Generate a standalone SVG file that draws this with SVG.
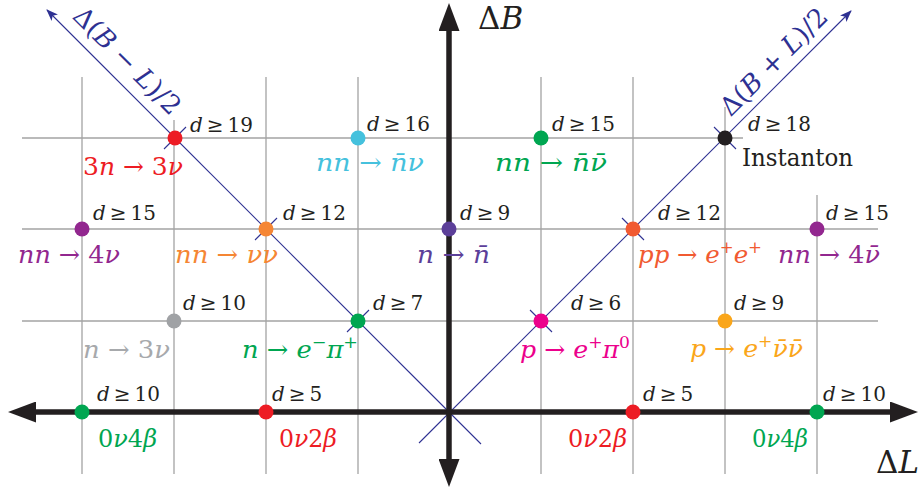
<svg xmlns="http://www.w3.org/2000/svg" width="920" height="490" viewBox="0 0 920 490">
<defs>
<style>
.grid{stroke:#a3a3a3;stroke-width:1.3;fill:none}
.diag{stroke:#2e3192;stroke-width:1.1;fill:none}
.axis{stroke:#231f20;stroke-width:5.5;fill:none}
text{font-family:'DejaVu Serif',serif}
.dl{font-size:20px;fill:#231f20}
.pl{font-size:25px}
.i{font-style:italic}
.sup{font-size:17px}
.dlab{font-size:26px;fill:#2e3192}
.ax{font-size:31px;fill:#231f20}
</style>
<marker id="axArrow" viewBox="0 0 28 21" refX="1" refY="10.5" markerWidth="28" markerHeight="21" orient="auto-start-reverse" markerUnits="userSpaceOnUse">
<path d="M0,0 L28,10.5 L0,21 z" fill="#231f20"/>
</marker>
<marker id="blueArrow" viewBox="0 0 12 9" refX="11" refY="4.5" markerWidth="12" markerHeight="9" orient="auto" markerUnits="userSpaceOnUse">
<path d="M0,0 L12,4.5 L0,9 L3,4.5 z" fill="#2e3192"/>
</marker>
</defs>
<rect width="920" height="490" fill="#ffffff"/>

<g id="grid">
<line class="grid" x1="22" y1="138" x2="743" y2="138"/>
<line class="grid" x1="22" y1="229" x2="878" y2="229"/>
<line class="grid" x1="22" y1="321" x2="878" y2="321"/>
<line class="grid" x1="82" y1="77" x2="82" y2="474"/>
<line class="grid" x1="174" y1="120" x2="174" y2="474"/>
<line class="grid" x1="266" y1="77" x2="266" y2="474"/>
<line class="grid" x1="358" y1="77" x2="358" y2="474"/>
<line class="grid" x1="541" y1="77" x2="541" y2="474"/>
<line class="grid" x1="633" y1="77" x2="633" y2="474"/>
<line class="grid" x1="725" y1="107" x2="725" y2="474"/>
<line class="grid" x1="817" y1="195" x2="817" y2="474"/>
</g>

<g id="connectors">
<line class="diag" x1="481" y1="444" x2="47" y2="10" marker-end="url(#blueArrow)"/>
<line class="diag" x1="419" y1="443" x2="851" y2="11" marker-end="url(#blueArrow)"/>
<line class="diag" x1="164" y1="149" x2="186" y2="127"/>
<line class="diag" x1="255" y1="240" x2="277" y2="218"/>
<line class="diag" x1="347" y1="332" x2="369" y2="310"/>
<line class="diag" x1="530" y1="310" x2="552" y2="332"/>
<line class="diag" x1="622" y1="218" x2="644" y2="240"/>
<line class="diag" x1="714" y1="127" x2="736" y2="149"/>
<line class="axis" x1="35" y1="412" x2="891" y2="412" marker-start="url(#axArrow)" marker-end="url(#axArrow)"/>
<line class="axis" x1="449" y1="460" x2="449" y2="30" marker-start="url(#axArrow)" marker-end="url(#axArrow)"/>
</g>

<g id="axis-labels">
<text class="ax" x="478" y="29">Δ<tspan class="i">B</tspan></text>
<text class="ax" x="876" y="473">Δ<tspan class="i">L</tspan></text>
<text class="dlab" x="121" y="67" text-anchor="middle" transform="rotate(45 121 67)" textLength="140" lengthAdjust="spacingAndGlyphs">Δ(<tspan class="i">B</tspan> − <tspan class="i">L</tspan>)/2</text>
<text class="dlab" x="780" y="68" text-anchor="middle" transform="rotate(-45 780 68)" textLength="140" lengthAdjust="spacingAndGlyphs">Δ(<tspan class="i">B</tspan> + <tspan class="i">L</tspan>)/2</text>
</g>

<g id="node-3n-3nu">
<circle cx="175" cy="138" r="7.5" fill="#ed1c24"/>
<text class="dl" x="190" y="132"><tspan class="i">d</tspan><tspan dx="4">≥</tspan><tspan dx="4">19</tspan></text>
<text class="pl" x="83" y="175" fill="#ed1c24" textLength="100" lengthAdjust="spacingAndGlyphs">3<tspan class="i">n</tspan> → 3<tspan class="i">ν</tspan></text>
</g>
<g id="node-nn-nbarnu">
<circle cx="358" cy="138" r="7.5" fill="#45c1dd"/>
<text class="dl" x="367" y="131"><tspan class="i">d</tspan><tspan dx="4">≥</tspan><tspan dx="4">16</tspan></text>
<text class="pl" x="316" y="171" fill="#45c1dd" textLength="108" lengthAdjust="spacingAndGlyphs"><tspan class="i">nn</tspan> → <tspan class="i">n̄ν</tspan></text>
</g>
<g id="node-nn-nbarnubar">
<circle cx="541" cy="138" r="7.5" fill="#00a651"/>
<text class="dl" x="552" y="131"><tspan class="i">d</tspan><tspan dx="4">≥</tspan><tspan dx="4">15</tspan></text>
<text class="pl" x="495" y="171" fill="#00a651" textLength="112" lengthAdjust="spacingAndGlyphs"><tspan class="i">nn</tspan> → <tspan class="i">n̄ν̄</tspan></text>
</g>
<g id="node-instanton">
<circle cx="725" cy="138" r="7.5" fill="#231f20"/>
<text class="dl" x="748" y="131"><tspan class="i">d</tspan><tspan dx="4">≥</tspan><tspan dx="4">18</tspan></text>
<text class="pl" x="742" y="166" fill="#231f20" textLength="111" lengthAdjust="spacingAndGlyphs">Instanton</text>
</g>

<g id="node-nn-4nu">
<circle cx="82" cy="229" r="7.5" fill="#92278f"/>
<text class="dl" x="93" y="220"><tspan class="i">d</tspan><tspan dx="4">≥</tspan><tspan dx="4">15</tspan></text>
<text class="pl" x="18" y="263" fill="#92278f" textLength="102" lengthAdjust="spacingAndGlyphs"><tspan class="i">nn</tspan> → 4<tspan class="i">ν</tspan></text>
</g>
<g id="node-nn-nunu">
<circle cx="266" cy="229" r="7.5" fill="#f58634"/>
<text class="dl" x="283" y="220"><tspan class="i">d</tspan><tspan dx="4">≥</tspan><tspan dx="4">12</tspan></text>
<text class="pl" x="175" y="263" fill="#f58634" textLength="103" lengthAdjust="spacingAndGlyphs"><tspan class="i">nn</tspan> → <tspan class="i">νν</tspan></text>
</g>
<g id="node-n-nbar">
<circle cx="449" cy="229" r="7.5" fill="#5c3f99"/>
<text class="dl" x="460" y="220"><tspan class="i">d</tspan><tspan dx="4">≥</tspan><tspan dx="4">9</tspan></text>
<text class="pl" x="417" y="263" fill="#5c3f99" textLength="73" lengthAdjust="spacingAndGlyphs"><tspan class="i">n</tspan> → <tspan class="i">n̄</tspan></text>
</g>
<g id="node-pp-ee">
<circle cx="633" cy="229" r="7.5" fill="#f15a31"/>
<text class="dl" x="658" y="220"><tspan class="i">d</tspan><tspan dx="4">≥</tspan><tspan dx="4">12</tspan></text>
<text class="pl" x="638" y="263" fill="#f15a31" textLength="124" lengthAdjust="spacingAndGlyphs"><tspan class="i">pp</tspan> → <tspan class="i">e</tspan><tspan class="sup" dy="-10">+</tspan><tspan class="i" dy="10">e</tspan><tspan class="sup" dy="-10">+</tspan></text>
</g>
<g id="node-nn-4nubar">
<circle cx="817" cy="229" r="7.5" fill="#92278f"/>
<text class="dl" x="826" y="220"><tspan class="i">d</tspan><tspan dx="4">≥</tspan><tspan dx="4">15</tspan></text>
<text class="pl" x="778" y="263" fill="#92278f" textLength="102" lengthAdjust="spacingAndGlyphs"><tspan class="i">nn</tspan> → 4<tspan class="i">ν̄</tspan></text>
</g>

<g id="node-n-3nu">
<circle cx="174" cy="321" r="7.5" fill="#a0a2a5"/>
<text class="dl" x="183" y="310"><tspan class="i">d</tspan><tspan dx="4">≥</tspan><tspan dx="4">10</tspan></text>
<text class="pl" x="83" y="358" fill="#a7a9ac" textLength="87" lengthAdjust="spacingAndGlyphs"><tspan class="i">n</tspan> → 3<tspan class="i">ν</tspan></text>
</g>
<g id="node-n-epi">
<circle cx="358" cy="321" r="7.5" fill="#00a651"/>
<text class="dl" x="373" y="310"><tspan class="i">d</tspan><tspan dx="4">≥</tspan><tspan dx="4">7</tspan></text>
<text class="pl" x="242" y="358" fill="#00a651" textLength="116" lengthAdjust="spacingAndGlyphs"><tspan class="i">n</tspan> → <tspan class="i">e</tspan><tspan class="sup" dy="-10">−</tspan><tspan class="i" dy="10">π</tspan><tspan class="sup" dy="-10">+</tspan></text>
</g>
<g id="node-p-epi0">
<circle cx="541" cy="321" r="7.5" fill="#ec008c"/>
<text class="dl" x="571" y="310"><tspan class="i">d</tspan><tspan dx="4">≥</tspan><tspan dx="4">6</tspan></text>
<text class="pl" x="520" y="358" fill="#ec008c" textLength="110" lengthAdjust="spacingAndGlyphs"><tspan class="i">p</tspan> → <tspan class="i">e</tspan><tspan class="sup" dy="-10">+</tspan><tspan class="i" dy="10">π</tspan><tspan class="sup" dy="-10">0</tspan></text>
</g>
<g id="node-p-enunu">
<circle cx="725" cy="321" r="7.5" fill="#faa61a"/>
<text class="dl" x="734" y="310"><tspan class="i">d</tspan><tspan dx="4">≥</tspan><tspan dx="4">9</tspan></text>
<text class="pl" x="690" y="357" fill="#faa61a" textLength="113" lengthAdjust="spacingAndGlyphs"><tspan class="i">p</tspan> → <tspan class="i">e</tspan><tspan class="sup" dy="-10">+</tspan><tspan class="i" dy="10">ν̄ν̄</tspan></text>
</g>

<g id="node-0nu4beta-left">
<circle cx="82" cy="412" r="7.5" fill="#00a651"/>
<text class="dl" x="97" y="401"><tspan class="i">d</tspan><tspan dx="4">≥</tspan><tspan dx="4">10</tspan></text>
<text class="pl" x="98" y="447" fill="#00a651" textLength="59" lengthAdjust="spacingAndGlyphs">0<tspan class="i">ν</tspan>4<tspan class="i">β</tspan></text>
</g>
<g id="node-0nu2beta-left">
<circle cx="266" cy="412" r="7.5" fill="#ed1c24"/>
<text class="dl" x="272" y="401"><tspan class="i">d</tspan><tspan dx="4">≥</tspan><tspan dx="4">5</tspan></text>
<text class="pl" x="279" y="447" fill="#ed1c24" textLength="58" lengthAdjust="spacingAndGlyphs">0<tspan class="i">ν</tspan>2<tspan class="i">β</tspan></text>
</g>
<g id="node-0nu2beta-right">
<circle cx="633" cy="412" r="7.5" fill="#ed1c24"/>
<text class="dl" x="643" y="401"><tspan class="i">d</tspan><tspan dx="4">≥</tspan><tspan dx="4">5</tspan></text>
<text class="pl" x="568" y="447" fill="#ed1c24" textLength="59" lengthAdjust="spacingAndGlyphs">0<tspan class="i">ν</tspan>2<tspan class="i">β</tspan></text>
</g>
<g id="node-0nu4beta-right">
<circle cx="817" cy="412" r="7.5" fill="#00a651"/>
<text class="dl" x="823" y="401"><tspan class="i">d</tspan><tspan dx="4">≥</tspan><tspan dx="4">10</tspan></text>
<text class="pl" x="752" y="447" fill="#00a651" textLength="56" lengthAdjust="spacingAndGlyphs">0<tspan class="i">ν</tspan>4<tspan class="i">β</tspan></text>
</g>
</svg>
